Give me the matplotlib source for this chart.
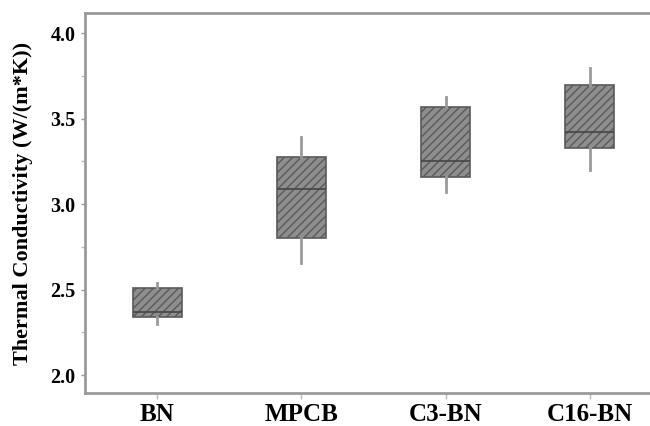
import matplotlib
matplotlib.use("Agg")
import matplotlib.pyplot as plt
from matplotlib.ticker import MultipleLocator

categories = ["BN", "MPCB", "C3-BN", "C16-BN"]
whisker_low = [2.30, 2.655, 3.07, 3.20]
q1 = [2.34, 2.80, 3.158, 3.327]
median = [2.37, 3.09, 3.25, 3.42]
q3 = [2.51, 3.275, 3.567, 3.696]
whisker_high = [2.54, 3.39, 3.626, 3.795]
yticks = [2.0, 2.5, 3.0, 3.5, 4.0]

plt.rcParams['font.family'] = ['Liberation Serif', 'DejaVu Serif']
plt.rcParams['font.weight'] = 'bold'
plt.rcParams['hatch.linewidth'] = 1.0

fig = plt.figure(figsize=(6.5, 4.26), dpi=100)
W, H = 650, 426
left, right, top, bottom = 85, 662, 13, 393
ax = fig.add_axes([left / W, (H - bottom) / H, (right - left) / W, (bottom - top) / H])

stats = []
for i, c in enumerate(categories):
    stats.append(dict(label=c, whislo=whisker_low[i], q1=q1[i], med=median[i],
                      q3=q3[i], whishi=whisker_high[i], fliers=[]))

bp = ax.bxp(stats, positions=[1, 2, 3, 4], widths=0.34, patch_artist=True,
            showcaps=False,
            boxprops=dict(facecolor='#8e8e8e', edgecolor='#5a5a5a', linewidth=1.2, hatch='////'),
            medianprops=dict(color='#4a4a4a', linewidth=1.3),
            whiskerprops=dict(color='#9a9a9a', linewidth=2.0))

ax.set_xlim(0.5, 4.5)
ax.set_ylim(1.895, 4.117)
ax.set_yticks(yticks)
ax.set_yticklabels([f"{v:.1f}" for v in yticks])
ax.yaxis.set_minor_locator(MultipleLocator(0.25))
ax.set_xticks([1, 2, 3, 4])
ax.set_xticklabels(categories)

for s in ax.spines.values():
    s.set_color('#9a9a9a')
    s.set_linewidth(2.0)

ax.tick_params(axis='y', which='major', labelsize=14.5, length=3, color='#9a9a9a', width=1, pad=4)
ax.tick_params(axis='y', which='minor', length=3, color='#bbbbbb', width=1)
ax.tick_params(axis='x', which='major', labelsize=18, length=4, color='#bbbbbb', width=1, pad=3)
for lbl in ax.get_xticklabels() + ax.get_yticklabels():
    lbl.set_fontweight('bold')

ax.set_ylabel("Thermal Conductivity (W/(m*K))", fontsize=16, fontweight='bold', labelpad=12)

fig.savefig("out.png", dpi=100)
